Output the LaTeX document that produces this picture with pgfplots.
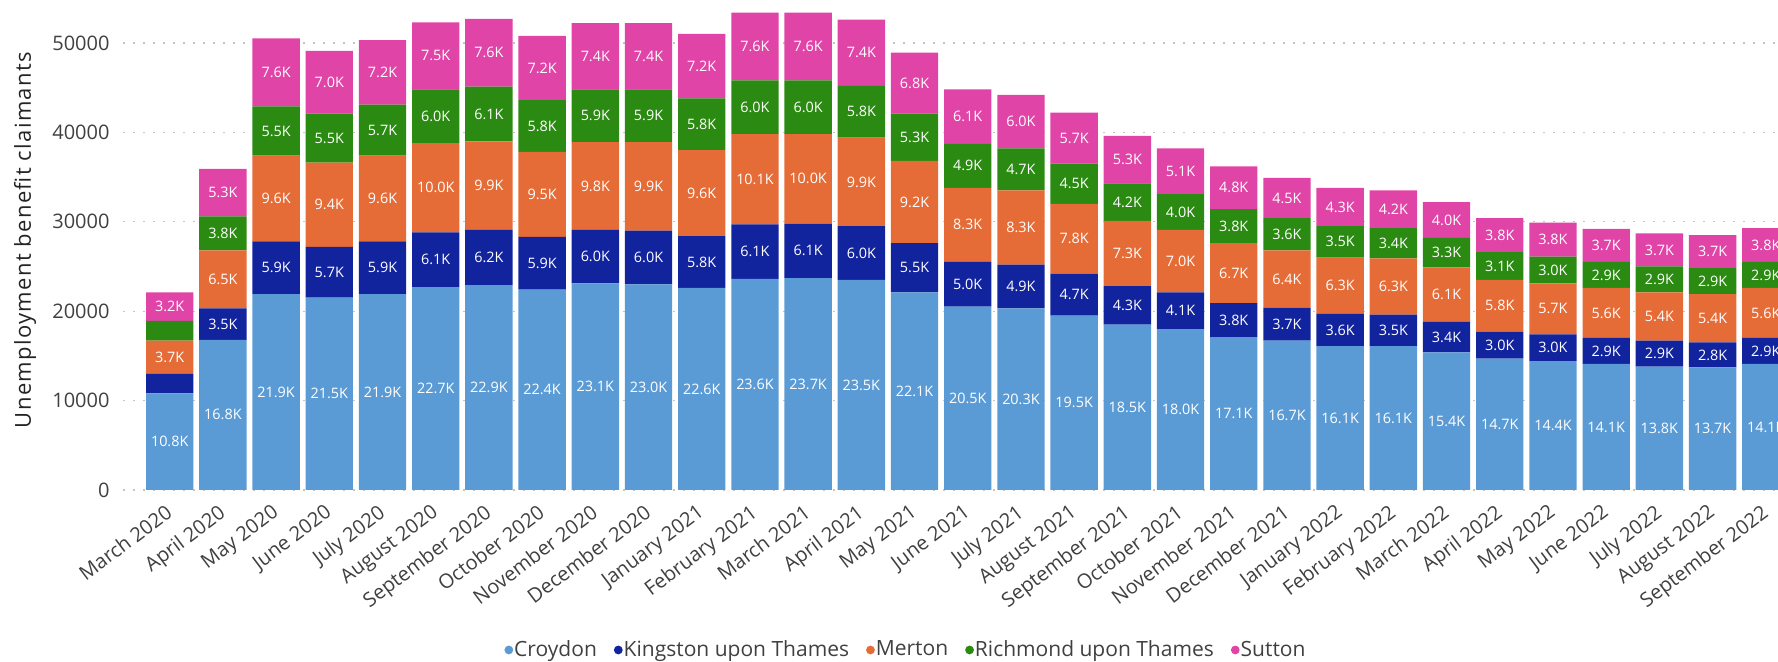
\documentclass[border=0pt]{standalone}
\usepackage{pgfplots}
\pgfplotsset{compat=1.18}
\usepackage{pgfplotstable}
\usepackage{fontspec}
\setmainfont{Open Sans}
\newfontfamily\ylabelfont{Open Sans}[LetterSpace=6]

\definecolor{croydon}{HTML}{5B9BD5}
\definecolor{kingston}{HTML}{12239E}
\definecolor{merton}{HTML}{E66C37}
\definecolor{richmond}{HTML}{2B8A12}
\definecolor{sutton}{HTML}{E044A7}
\definecolor{axistext}{HTML}{404040}
\definecolor{titletext}{HTML}{252423}
\definecolor{gridgray}{HTML}{C4C4C4}

% Claimants per borough, in thousands
\pgfplotstableread{
i  Croydon Kingston Merton Richmond Sutton
0  10.8    2.2      3.7    2.2      3.2
1  16.8    3.5      6.5    3.8      5.3
2  21.9    5.9      9.6    5.5      7.6
3  21.5    5.7      9.4    5.5      7.0
4  21.9    5.9      9.6    5.7      7.2
5  22.7    6.1      10.0   6.0      7.5
6  22.9    6.2      9.9    6.1      7.6
7  22.4    5.9      9.5    5.8      7.2
8  23.1    6.0      9.8    5.9      7.4
9  23.0    6.0      9.9    5.9      7.4
10 22.6    5.8      9.6    5.8      7.2
11 23.6    6.1      10.1   6.0      7.6
12 23.7    6.1      10.0   6.0      7.6
13 23.5    6.0      9.9    5.8      7.4
14 22.1    5.5      9.2    5.3      6.8
15 20.5    5.0      8.3    4.9      6.1
16 20.3    4.9      8.3    4.7      6.0
17 19.5    4.7      7.8    4.5      5.7
18 18.5    4.3      7.3    4.2      5.3
19 18.0    4.1      7.0    4.0      5.1
20 17.1    3.8      6.7    3.8      4.8
21 16.7    3.7      6.4    3.6      4.5
22 16.1    3.6      6.3    3.5      4.3
23 16.1    3.5      6.3    3.4      4.2
24 15.4    3.4      6.1    3.3      4.0
25 14.7    3.0      5.8    3.1      3.8
26 14.4    3.0      5.7    3.0      3.8
27 14.1    2.9      5.6    2.9      3.7
28 13.8    2.9      5.4    2.9      3.7
29 13.7    2.8      5.4    2.9      3.7
30 14.1    2.9      5.6    2.9      3.8
}\claims

\pgfplotsset{
  borough/.style={
    fill=#1, draw=none,
    legend image code/.code={\fill[#1] (0pt,0pt) circle (2.2pt);},
  },
  % segment value as a fixed-point number, for the label text
  segment value/.code={\pgfmathfloattofixed{\pgfplotspointmeta}\global\let\segv\pgfmathresult},
}

\begin{document}
\begin{tikzpicture}
\begin{axis}[
  scale only axis,
  width=827.5pt, height=245pt,
  ybar stacked, bar width=0.89,
  xmin=-0.878, xmax=30.23,
  ymin=0, ymax=54800,
  axis line style={draw=none},
  major tick length=0pt,
  ytick={0,10000,20000,30000,40000,50000},
  scaled y ticks=false,
  ymajorgrids,
  major grid style={gridgray, line width=0.6pt, dash pattern=on 0.8pt off 4.2pt},
  /pgf/number format/assume math mode=true,
  yticklabel style={font=\fontsize{10}{12}\selectfont, text=axistext, xshift=-3.2pt,
    /pgf/number format/fixed, /pgf/number format/1000 sep={}},
  xtick={0,...,30},
  xticklabels={March 2020, April 2020, May 2020, June 2020, July 2020, August 2020,
    September 2020, October 2020, November 2020, December 2020, January 2021,
    February 2021, March 2021, April 2021, May 2021, June 2021, July 2021,
    August 2021, September 2021, October 2021, November 2021, December 2021,
    January 2022, February 2022, March 2022, April 2022, May 2022, June 2022,
    July 2022, August 2022, September 2022},
  xticklabel style={font=\fontsize{10}{12}\selectfont, text=axistext,
    rotate=37, anchor=north east, inner sep=2pt, xshift=-4pt, yshift=-1.5pt},
  ylabel={\ylabelfont Unemployment benefit claimants},
  ylabel style={font=\fontsize{11}{13}\selectfont, text=titletext,
    at={(axis description cs:-0.0592,0.51)}, anchor=center},
  point meta=explicit,
  nodes near coords={\ifdim\segv pt<2.5pt\else\pgfmathprintnumber[fixed,fixed zerofill,precision=1]{\segv}K\fi},
  nodes near coords style={/pgfplots/segment value, font=\fontsize{7.2}{8}\selectfont,
    text=white, anchor=center, inner sep=0pt},
  legend columns=5,
  legend style={draw=none, fill=none, at={(axis description cs:0.4737,-0.3265)},
    anchor=center, font=\fontsize{10.5}{12}\selectfont, text=axistext,
    /tikz/every even column/.append style={column sep=6.5pt},
    /tikz/every odd column/.append style={column sep=-1.5pt}},
]
\addplot[borough=croydon]  table[x=i, y expr=1000*\thisrow{Croydon},  meta=Croydon]{\claims};
\addplot[borough=kingston] table[x=i, y expr=1000*\thisrow{Kingston}, meta=Kingston]{\claims};
\addplot[borough=merton]   table[x=i, y expr=1000*\thisrow{Merton},   meta=Merton]{\claims};
\addplot[borough=richmond] table[x=i, y expr=1000*\thisrow{Richmond}, meta=Richmond]{\claims};
\addplot[borough=sutton]   table[x=i, y expr=1000*\thisrow{Sutton},   meta=Sutton]{\claims};
\legend{Croydon, Kingston upon Thames, Merton, Richmond upon Thames, Sutton}
\end{axis}
\pgfresetboundingbox
\path[use as bounding box] (-61.5pt,-86pt) rectangle (827.5pt,245pt);
\end{tikzpicture}
\end{document}
